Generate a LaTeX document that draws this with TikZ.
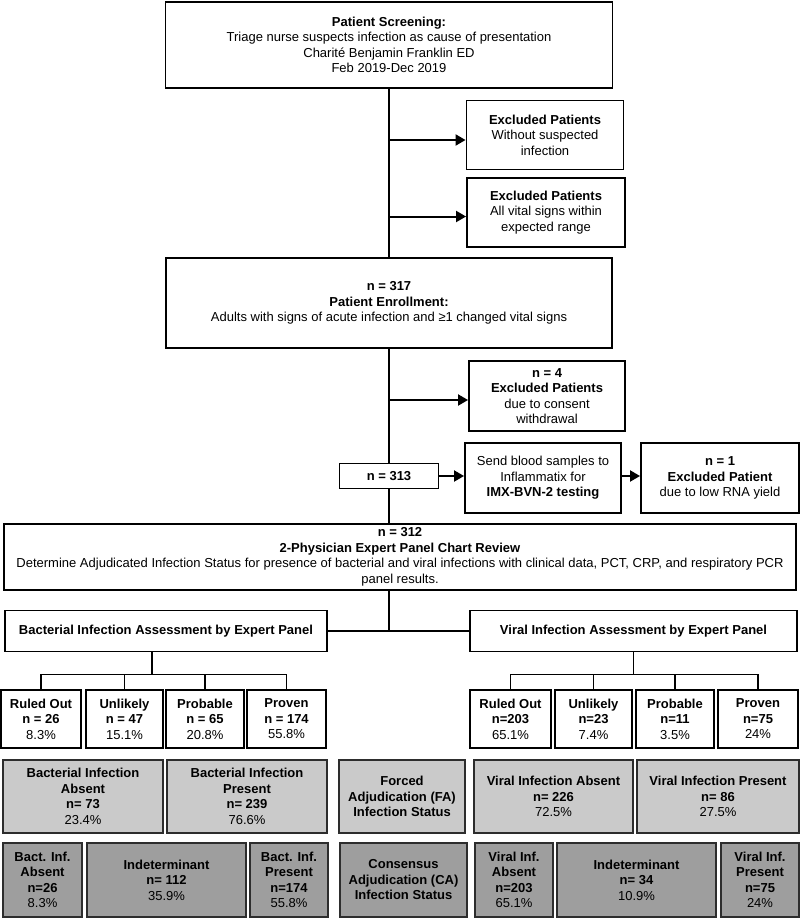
\documentclass[tikz,border=0pt]{standalone}
\usepackage{fontspec}
\setmainfont{Liberation Sans}
\usetikzlibrary{arrows.meta}
\definecolor{graylight}{RGB}{202,202,202}
\definecolor{graydark}{RGB}{158,158,158}
\definecolor{edgegray}{RGB}{45,45,45}
\tikzset{
  box/.style={draw, line width=1.9pt, align=center, inner sep=2pt,
    font=\fontsize{13pt}{15.5pt}\selectfont},
  fabox/.style={box, fill=graylight, draw=edgegray, line width=2pt},
  cabox/.style={box, fill=graydark, draw=edgegray, line width=2pt},
  sz/.style 2 args={minimum width=#1pt, minimum height=#2pt},
  arr/.style={line width=2pt, -{Triangle[length=10pt,width=11pt]}},
  link/.style={line width=1.8pt},
}
\begin{document}
\begin{tikzpicture}[x=1pt,y=-1pt]
\useasboundingbox (0,0) rectangle (800,918);
% Screening and enrollment
\node[box, sz={447}{86}] (screen) at (389,45) {\textbf{Patient Screening:}\\Triage nurse suspects infection as cause of presentation\\Charité Benjamin Franklin ED\\Feb 2019-Dec 2019};
\node[box, sz={157}{69}] (excl1) at (545,135) {\textbf{Excluded Patients}\\Without suspected\\infection};
\node[box, sz={158}{69}] (excl2) at (546,212.5) {\textbf{Excluded Patients}\\All vital signs within\\expected range};
\node[box, sz={446}{90}] (enroll) at (389,303) {\textbf{n = 317}\\\textbf{Patient Enrollment:}\\Adults with signs of acute infection and ≥1 changed vital signs};
\node[box, sz={156}{70}] (excl3) at (547,396) {\textbf{n = 4}\\\textbf{Excluded Patients}\\due to consent\\withdrawal};
\node[box, sz={99}{25}] (n313) at (389,476) {\textbf{n = 313}};
\node[box, sz={156}{70}] (send) at (543,478) {Send blood samples to\\Inflammatix for\\\textbf{IMX-BVN-2 testing}};
\node[box, sz={158}{70}] (excl4) at (720,478) {\textbf{n = 1}\\\textbf{Excluded Patient}\\due to low RNA yield};
\node[box, sz={792}{66}] (review) at (400,557) {\textbf{n = 312}\\\textbf{2-Physician Expert Panel Chart Review}\\Determine Adjudicated Infection Status for presence of bacterial and viral infections with clinical data, PCT, CRP, and respiratory PCR\\panel results.};
% Expert panel assessments
\node[box, sz={322}{41}] (bact) at (166,631) {\textbf{Bacterial Infection Assessment by Expert Panel}};
\node[box, sz={327}{41}] (viral) at (633.5,631) {\textbf{Viral Infection Assessment by Expert Panel}};
\node[box, sz={80}{58}] (bro) at (41,719) {\textbf{Ruled Out}\\\textbf{n = 26}\\8.3\%};
\node[box, sz={77}{58}] (bun) at (124.5,719) {\textbf{Unlikely}\\\textbf{n = 47}\\15.1\%};
\node[box, sz={78}{58}] (bpr) at (205,719) {\textbf{Probable}\\\textbf{n = 65}\\20.8\%};
\node[box, sz={79}{58}] (bpv) at (286.5,719) {\textbf{Proven}\\\textbf{n = 174}\\55.8\%};
\node[box, sz={81}{58}] (vro) at (510.5,719) {\textbf{Ruled Out}\\\textbf{n=203}\\65.1\%};
\node[box, sz={77}{58}] (vun) at (593.5,719) {\textbf{Unlikely}\\\textbf{n=23}\\7.4\%};
\node[box, sz={78}{58}] (vpr) at (675,719) {\textbf{Probable}\\\textbf{n=11}\\3.5\%};
\node[box, sz={80}{58}] (vpv) at (758,719) {\textbf{Proven}\\\textbf{n=75}\\24\%};
% Forced adjudication
\node[fabox, sz={160}{73}] (fbabs) at (83,796.5) {\textbf{Bacterial Infection}\\\textbf{Absent}\\\textbf{n= 73}\\23.4\%};
\node[fabox, sz={160}{73}] (fbpre) at (247,796.5) {\textbf{Bacterial Infection}\\\textbf{Present}\\\textbf{n= 239}\\76.6\%};
\node[fabox, sz={126}{73}] (fa) at (402,796.5) {\textbf{Forced}\\\textbf{Adjudication (FA)}\\\textbf{Infection Status}};
\node[fabox, sz={159}{73}] (fvabs) at (553.5,796.5) {\textbf{Viral Infection Absent}\\\textbf{n= 226}\\72.5\%};
\node[fabox, sz={162}{73}] (fvpre) at (718,796.5) {\textbf{Viral Infection Present}\\\textbf{n= 86}\\27.5\%};
% Consensus adjudication
\node[cabox, sz={79}{74}] (cbabs) at (42.5,880) {\textbf{Bact. Inf.}\\\textbf{Absent}\\\textbf{n=26}\\8.3\%};
\node[cabox, sz={159}{74}] (cbind) at (166.5,880) {\textbf{Indeterminant}\\\textbf{n= 112}\\35.9\%};
\node[cabox, sz={78}{74}] (cbpre) at (289,880) {\textbf{Bact. Inf.}\\\textbf{Present}\\\textbf{n=174}\\55.8\%};
\node[cabox, sz={127}{74}] (ca) at (403.5,880) {\textbf{Consensus}\\\textbf{Adjudication (CA)}\\\textbf{Infection Status}};
\node[cabox, sz={78}{74}] (cvabs) at (514,880) {\textbf{Viral Inf.}\\\textbf{Absent}\\\textbf{n=203}\\65.1\%};
\node[cabox, sz={159}{74}] (cvind) at (636.5,880) {\textbf{Indeterminant}\\\textbf{n= 34}\\10.9\%};
\node[cabox, sz={78}{74}] (cvpre) at (760,880) {\textbf{Viral Inf.}\\\textbf{Present}\\\textbf{n=75}\\24\%};
% Main trunk and exclusions
\draw[link] (screen.south) -- (enroll.north);
\path (excl1.west) ++(0,5) coordinate (e1);
\path (excl2.west) ++(0,4) coordinate (e2);
\path (excl3.west) ++(0,4) coordinate (e3);
\draw[arr] (screen.south |- e1) -- (e1);
\draw[arr] (screen.south |- e2) -- (e2);
\draw[link] (enroll.south) -- (n313.north);
\draw[arr] (enroll.south |- e3) -- (e3);
\draw[arr] (n313.east) -- (n313.east -| send.west);
\draw[arr] (send.east |- n313.east) -- (n313.east -| excl4.west);
\draw[link] (n313.south) -- (n313.south |- review.north);
\draw[link] (review.south -| n313.south) -- (n313.south |- bact.east);
\draw[link] (bact.east) -- (viral.west);
% Category trees
\path ([xshift=-14pt]bact.south) ++(0,22) coordinate (bj);
\draw[link] ([xshift=-14pt]bact.south) -- (bj);
\draw[link] (bro.north) |- (bj) -| (bpv.north);
\draw[link] (bun.north) -- (bun.north |- bj);
\draw[link] (bpr.north) -- (bpr.north |- bj);
\path (viral.south) ++(0,22) coordinate (vj);
\draw[link] (viral.south) -- (vj);
\draw[link] (vro.north) |- (vj) -| (vpv.north);
\draw[link] (vun.north) -- (vun.north |- vj);
\draw[link] (vpr.north) -- (vpr.north |- vj);
\end{tikzpicture}
\end{document}
